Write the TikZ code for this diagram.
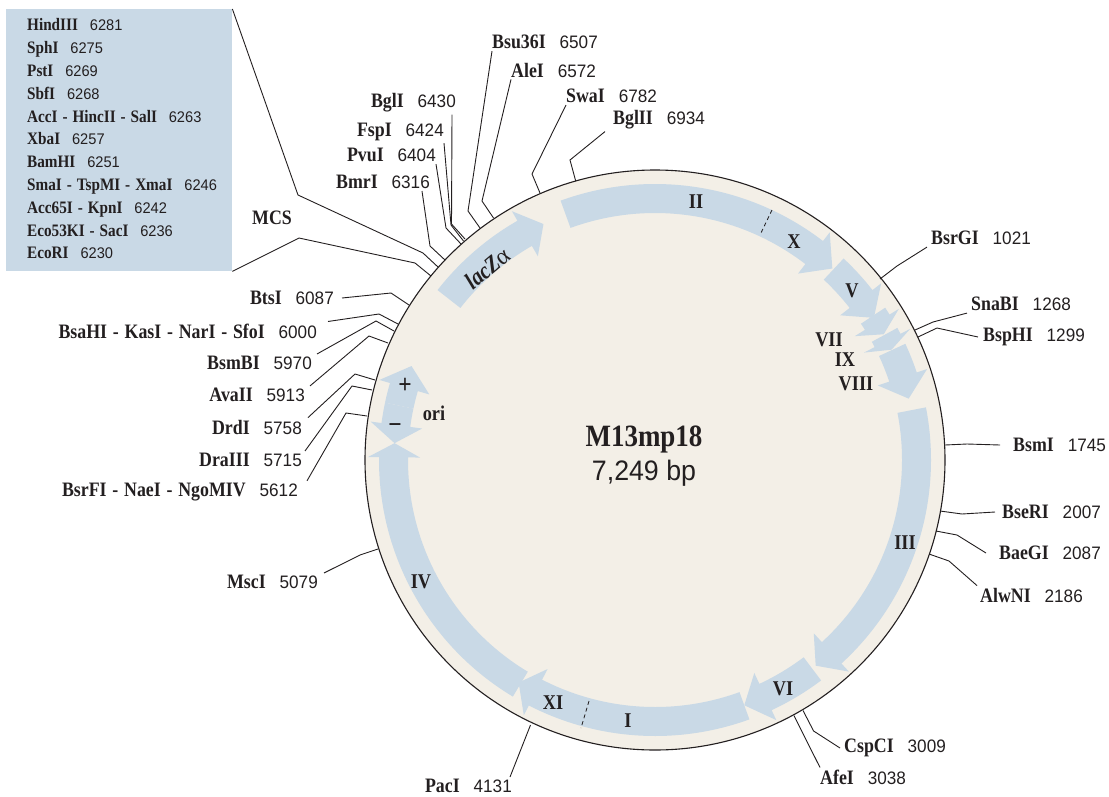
\documentclass[tikz,border=0pt]{standalone}
\usepackage{fontspec}
\usepackage{xcolor}
\usepackage{tikz}
\setmainfont{Liberation Serif}
\newfontfamily\namefont[FakeStretch=0.87,WordSpace=1.3]{Liberation Serif}
\newfontfamily\numfont[Scale=0.88,FakeStretch=0.95]{Liberation Sans}
\definecolor{genefill}{HTML}{C9D9E6}
\definecolor{ringfill}{HTML}{F3EFE7}
\definecolor{inktext}{HTML}{231F20}
\newcommand{\sitelabel}[2]{{\namefont\bfseries #1}\hspace{0.68em}{\numfont #2}}
\newcommand{\genearrow}[3]{\fill[gene] (#1:276) arc[start angle=#1, end angle=#2, radius=276]
  -- (#2:287) -- (#3:261) -- (#2:235) -- (#2:247)
  arc[start angle=#2, end angle=#1, radius=247] -- cycle;}

\begin{document}
\begin{tikzpicture}[
  x=1pt, y=1pt, yscale=-1,
  site/.style={inner xsep=0pt, inner ysep=2pt, text=inktext, font=\fontsize{20.5}{23}\selectfont},
  panellist/.style={inner sep=0pt, align=left, text=inktext, font=\fontsize{17.5}{22.8}\selectfont},
  genelabel/.style={inner sep=0pt, text=inktext, font=\namefont\bfseries\fontsize{21}{23}\selectfont},
  gene/.style={fill=genefill},
  ring/.style={draw=inktext, line width=1.1pt, fill=ringfill},
  leader/.style={draw=inktext, line width=0.9pt},
  joint/.style={draw=inktext, line width=0.8pt, dashed, dash pattern=on 4pt off 3pt}
]
\useasboundingbox (0,0) rectangle (1109,796);

% plasmid ring
\coordinate (centre) at (655,460);
\draw[ring] (centre) circle[radius=290];

% genes
\begin{scope}[shift={(centre)}]
\genearrow{218}{240.1}{244.7}
\genearrow{250}{307.5}{312.8}
\genearrow{313.1}{322}{327}
\genearrow{326.5}{328.2}{331.2}
\genearrow{331.4}{332.8}{335}
\genearrow{335.1}{341.5}{346.4}
\genearrow{-11}{47.5}{52}
\genearrow{53}{65}{70}
\genearrow{70}{117.2}{121.5}
\genearrow{121}{180.6}{183.7}
\genearrow{192}{196.2}{201.1}
\genearrow{192}{187.7}{183.7}
\end{scope}

\coordinate (xstart) at (772,210);
\coordinate (xend)   at (760,235);
\coordinate (xistart) at (589,701);
\coordinate (xiend)   at (581,728);
\draw[joint] (xstart) -- (xend);
\draw[joint] (xistart) -- (xiend);

\node[genelabel] (geneii)   at (696,202) {II};
\node[genelabel] (genex)    at (794,242) {X};
\node[genelabel] (genev)    at (852,291) {V};
\node[genelabel] (genevii)  at (829,340) {VII};
\node[genelabel] (geneix)   at (845,360) {IX};
\node[genelabel] (geneviii) at (856,384) {VIII};
\node[genelabel] (geneiii)  at (905,543) {III};
\node[genelabel] (genevi)   at (783,689) {VI};
\node[genelabel] (genei)    at (628,721) {I};
\node[genelabel] (genexi)   at (553,703) {XI};
\node[genelabel] (geneiv)   at (421,582) {IV};
\node[genelabel, font=\namefont\bfseries\fontsize{27}{29}\selectfont] (oriplus)  at (405,386) {+};
\node[genelabel, font=\namefont\bfseries\fontsize{27}{29}\selectfont] (oriminus) at (395,429) {−};
\node[genelabel] (orilabel) at (434,413) {ori};
\node[genelabel, rotate=40, font=\namefont\bfseries\fontsize{24}{26}\selectfont] (lacz) at (487,268) {\itshape lacZ{\normalfont\mdseries α}};

\node[inner sep=0pt, text=inktext, font=\namefont\bfseries\fontsize{31}{33}\selectfont] (plasmid) at (644,439) {M13mp18};
\node[inner sep=0pt, text=inktext, font=\numfont\fontsize{32}{34}\selectfont] (length) at (644,473) {7,249 bp};

% MCS panel
\node[fill=genefill, minimum width=226pt, minimum height=262pt, inner sep=0pt, anchor=north west] (mcspanel) at (6,9) {};
\node[panellist, anchor=west] (mcssites) at (27,139) {\sitelabel{HindIII}{6281}\\
\sitelabel{SphI}{6275}\\
\sitelabel{PstI}{6269}\\
\sitelabel{SbfI}{6268}\\
\sitelabel{AccI - HincII - SalI}{6263}\\
\sitelabel{XbaI}{6257}\\
\sitelabel{BamHI}{6251}\\
\sitelabel{SmaI - TspMI - XmaI}{6246}\\
\sitelabel{Acc65I - KpnI}{6242}\\
\sitelabel{Eco53KI - SacI}{6236}\\
\sitelabel{EcoRI}{6230}};
\node[site] (mcs) at (272,218) {\namefont\bfseries MCS};

\coordinate (mcsupper) at (438,267);
\coordinate (mcslower) at (431,276);
\draw[leader] (mcspanel.north east) -- (298,195) -- (423,253) -- (mcsupper);
\draw[leader] (mcspanel.south east) -- (299,238) -- (415,263) -- (mcslower);

% sites, clockwise from the top
\node[site, anchor=east] (bmri)  at (430,182) {\sitelabel{BmrI}{6316}};
\node[site, anchor=east] (pvui)  at (436,155) {\sitelabel{PvuI}{6404}};
\node[site, anchor=east] (fspi)  at (444,132) {\sitelabel{FspI}{6424}};
\node[site, anchor=east] (bgli)  at (456,103) {\sitelabel{BglI}{6430}};
\node[site, anchor=west] (bsuti) at (492,42)  {\sitelabel{Bsu36I}{6507}};
\node[site, anchor=west] (alei)  at (511,70)  {\sitelabel{AleI}{6572}};
\node[site, anchor=west] (swai)  at (566,96)  {\sitelabel{SwaI}{6782}};
\node[site, anchor=west] (bglii) at (613,120) {\sitelabel{BglII}{6934}};
\node[site, anchor=west] (bsrgi) at (931,238) {\sitelabel{BsrGI}{1021}};
\node[site, anchor=west] (snabi) at (971,304) {\sitelabel{SnaBI}{1268}};
\node[site, anchor=west] (bsphi) at (983,337) {\sitelabel{BspHI}{1299}};
\node[site, anchor=west] (bsmi)  at (1013,445) {\sitelabel{BsmI}{1745}};
\node[site, anchor=west] (bseri) at (1002,512) {\sitelabel{BseRI}{2007}};
\node[site, anchor=west] (baegi) at (999,553) {\sitelabel{BaeGI}{2087}};
\node[site, anchor=west] (alwni) at (980,595) {\sitelabel{AlwNI}{2186}};
\node[site, anchor=west] (cspci) at (844,748) {\sitelabel{CspCI}{3009}};
\node[site, anchor=west] (afei)  at (820,777) {\sitelabel{AfeI}{3038}};
\node[site, anchor=east] (paci)  at (512,786) {\sitelabel{PacI}{4131}};
\node[site, anchor=east] (msci)  at (318,582) {\sitelabel{MscI}{5079}};
\node[site, anchor=east] (bsrfi) at (298,492) {\sitelabel{BsrFI - NaeI - NgoMIV}{5612}};
\node[site, anchor=east] (draiii) at (302,460) {\sitelabel{DraIII}{5715}};
\node[site, anchor=east] (drdi)  at (302,427) {\sitelabel{DrdI}{5758}};
\node[site, anchor=east] (avaii) at (305,395) {\sitelabel{AvaII}{5913}};
\node[site, anchor=east] (bsmbi) at (312,363) {\sitelabel{BsmBI}{5970}};
\node[site, anchor=east] (bsahi) at (317,331) {\sitelabel{BsaHI - KasI - NarI - SfoI}{6000}};
\node[site, anchor=east] (btsi)  at (334,298) {\sitelabel{BtsI}{6087}};

\coordinate (bmricut)  at (445,260);
\coordinate (pvuicut)  at (461,244);
\coordinate (fspicut)  at (463.5,241);
\coordinate (bglicut)  at (465,239);
\coordinate (bsuticut) at (480,228);
\coordinate (aleicut)  at (493.5,218);
\coordinate (swaicut)  at (540,193);
\coordinate (bgliicut) at (575.7,181);
\coordinate (bsrgicut) at (880,279);
\coordinate (snabicut) at (915,330);
\coordinate (bsphicut) at (918,337);
\coordinate (bsmicut)  at (945,445);
\coordinate (bsericut) at (940,511);
\coordinate (baegicut) at (936,531);
\coordinate (alwnicut) at (929,554);
\coordinate (cspcicut) at (803,710.5);
\coordinate (afeicut)  at (794,715.6);
\coordinate (pacicut)  at (530.5,725);
\coordinate (mscicut)  at (378,549);
\coordinate (bsrficut) at (367,416);
\coordinate (draiiicut) at (372,390);
\coordinate (drdicut)  at (375,380);
\coordinate (avaiicut) at (388,343);
\coordinate (bsmbicut) at (394,331);
\coordinate (bsahicut) at (398,324);
\coordinate (btsicut)  at (409,305);

\draw[leader] ([xshift=-8pt]bmri.south east) -- (430,246) -- (bmricut);
\draw[leader] (pvui.south east) -- (446,228) -- (pvuicut);
\draw[leader] (fspi.south east) -- (451,225) -- (fspicut);
\draw[leader] ([xshift=-4pt]bgli.south east) -- (451.5,224) -- (bglicut);
\draw[leader] (bsuti.south west) -- (468,211) -- (bsuticut);
\draw[leader] (alei.south west) -- (482,201) -- (aleicut);
\draw[leader] (swai.south west) -- (532,174) -- (swaicut);
\draw[leader] ([xshift=-8pt]bglii.south west) -- (570,160) -- (bgliicut);
\draw[leader] ([xshift=-4pt]bsrgi.south west) -- (897,266) -- (bsrgicut);
\draw[leader] ([xshift=-4pt]snabi.south west) -- (933,322) -- (snabicut);
\draw[leader] ([xshift=-5pt]bsphi.west) -- (937,328) -- (bsphicut);
\draw[leader] ([xshift=-13pt]bsmi.west) -- (967,444) -- (bsmicut);
\draw[leader] ([xshift=-7pt]bseri.west) -- (962,514) -- (bsericut);
\draw[leader] ([xshift=-13pt]baegi.west) -- (957,535) -- (baegicut);
\draw[leader] ([xshift=-3pt]alwni.north west) -- (949,561) -- (alwnicut);
\draw[leader] ([xshift=-4pt]cspci.west) -- (813.6,731) -- (cspcicut);
\draw[leader] (afei.north west) -- (afeicut);
\draw[leader] ([xshift=-2pt]paci.north east) -- (pacicut);
\draw[leader] ([xshift=6pt]msci.north east) -- (360,555) -- (mscicut);
\draw[leader] ([xshift=9pt]bsrfi.north east) -- (346,413) -- (bsrficut);
\draw[leader] ([xshift=3pt]draiii.north east) -- (352,386) -- (draiiicut);
\draw[leader] ([xshift=6pt]drdi.north east) -- (355,374) -- (drdicut);
\draw[leader] ([xshift=5pt]avaii.north east) -- (369,336) -- (avaiicut);
\draw[leader] ([xshift=5pt]bsmbi.north east) -- (376,321) -- (bsmbicut);
\draw[leader] ([xshift=11pt]bsahi.north east) -- (379,314) -- (bsahicut);
\draw[leader] ([xshift=8pt]btsi.east) -- (391,293) -- (btsicut);
\end{tikzpicture}
\end{document}
